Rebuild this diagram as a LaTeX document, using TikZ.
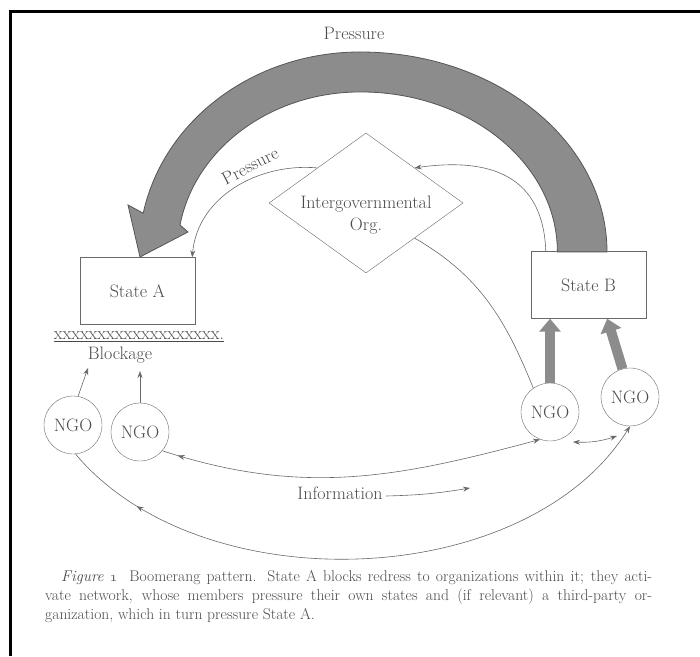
\documentclass[tikz,border=0pt]{standalone}
\usepackage{tikz}
\usetikzlibrary{arrows.meta,shapes.geometric,decorations.markings}
\definecolor{inkgray}{RGB}{75,75,75}
\definecolor{linegray}{RGB}{105,105,105}
\definecolor{bandgray}{RGB}{140,140,140}
\definecolor{bandedge}{RGB}{85,85,85}
\newcommand{\figfont}{\fontsize{18}{22}\selectfont}
\tikzset{
  statebox/.style={draw=linegray, minimum width=115pt, minimum height=67pt, text=inkgray, font=\figfont},
  ngo/.style={circle, draw=linegray, minimum size=58pt, inner sep=0pt, text=inkgray, font=\figfont},
  figtext/.style={text=inkgray, font=\figfont},
  link/.style={draw=linegray, line width=0.6pt},
  push/.style={draw=bandgray, line width=10pt, -{Triangle[width=21pt,length=13pt]}},
  backtip/.style={decoration={markings, mark=at position #1 with {\arrow{<}}}, postaction={decorate}}
}
\begin{document}
\begin{tikzpicture}[x=1pt, y=1pt, >={Stealth[length=7pt,width=5pt]}]
    \useasboundingbox (0,0) rectangle (700,656);
    \draw [line width=3pt] (700,644) -- (10,644) -- (10,0);
    \path [fill=bandgray, draw=bandedge, line width=0.8pt] (607,404)
        arc[start angle=0, end angle=90, x radius=247, y radius=200]
        arc[start angle=90, end angle=168.8, x radius=221, y radius=200]
        -- (128,451) -- (140,399) -- (188,424) -- (180,431)
        arc[start angle=170.3, end angle=90, x radius=183, y radius=160]
        arc[start angle=90, end angle=0, x radius=197, y radius=160] -- cycle;
    \node [figtext] at (354,623) (presstop) {Pressure};
    \node [statebox] at (137.5,365) (statea) {State A};
    \node [statebox] at (588.5,371) (stateb) {State B};
    \node [diamond, draw=linegray, minimum width=194pt, minimum height=140pt, inner sep=0pt] at (366,453) (iorg) {};
    \node [figtext, align=center] at (366,441) (iorgtext) {Intergovernmental\\Org.};
    \node [figtext, rotate=27] at (250,490) (presslow) {Pressure};
    \node [figtext] at (139,319) (xline) {\underline{xxxxxxxxxxxxxxxxxxx.}};
    \node [figtext] at (120,301) (block) {Blockage};
    \node [ngo] at (73,231) (ngoa1) {NGO};
    \node [ngo] at (140,224) (ngoa2) {NGO};
    \node [ngo] at (550,244) (ngob1) {NGO};
    \node [ngo] at (630,259) (ngob2) {NGO};
    \node [figtext] at (340,163) (info) {Information};
    \coordinate (blk1) at (88,288);
    \coordinate (blk2) at (140,285);
    \coordinate (dblA) at (573,214);
    \coordinate (dblB) at (617,220);
    \coordinate (infoend) at (470,168);
    \path [link, ->] (iorg.north west) to[out=175, in=85] ([xshift=-3pt]statea.north east);
    \path [link, ->] ([xshift=15pt]stateb.north west) to[out=92, in=8, looseness=1.25] (iorg.north east);
    \path [link] (iorg.south east) to[out=-30, in=112] (ngob1.125);
    \path [push] (ngob1.north) -- (ngob1.north |- stateb.south);
    \path [push] (ngob2.105) -- ([xshift=-39pt]stateb.south east);
    \path [link, ->] (ngoa1.80) -- (blk1);
    \path [link, ->] (ngoa2.north) -- (blk2);
    \path [link, ->, backtip=0.06] (ngoa2.-40) to[out=-18, in=195] (ngob1.-110);
    \path [link, ->, backtip=0.14] (ngoa1.-85) to[out=-50, in=238, looseness=0.9] (ngob2.-90);
    \path [link, <->] (dblA) to[bend right=10] (dblB);
    \path [link, ->] ([yshift=-3pt]info.east) to[bend right=4] (infoend);
    \node [anchor=north west, inner sep=0pt, text width=607pt, align=justify, text=inkgray, font=\fontsize{15.6}{19}\selectfont] at (45,86) (caption) {\hspace*{16pt}\textit{Figure} \oldstylenums{1}\ \ Boomerang pattern. State A blocks redress to organizations within it; they acti-\linebreak vate network, whose members pressure their own states and (if relevant) a third-party or-\linebreak ganization, which in turn pressure State A.};
\end{tikzpicture}
\end{document}
